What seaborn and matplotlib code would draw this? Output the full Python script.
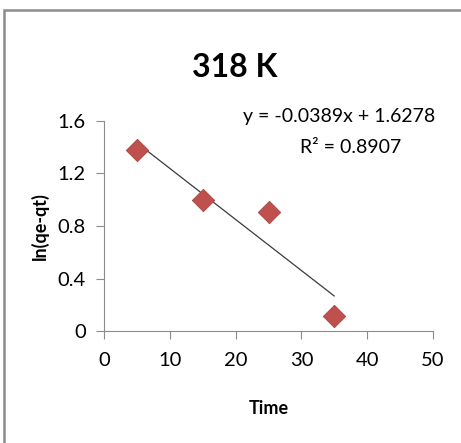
import numpy as np
import pandas as pd
import seaborn as sns
import matplotlib
matplotlib.use("Agg")
import matplotlib.pyplot as plt
from matplotlib.patches import Rectangle

# Kinetic data at 318 K
time = [5, 15, 25, 35]
ln_qe_qt = [1.378, 1.00, 0.91, 0.111]
x_ticks = [0, 10, 20, 30, 40, 50]
y_ticks = [0, 0.4, 0.8, 1.2, 1.6]
title = "318 K"
x_label = "Time"
y_label = "ln(qe-qt)"

# linear trendline as reported
slope = -0.0389
intercept = 1.6278
r_squared = 0.8907

df = pd.DataFrame({"Time": time, "ln": ln_qe_qt})
trend = pd.DataFrame({"Time": [min(time), max(time)]})
trend["ln"] = slope * trend["Time"] + intercept

sns.set_style("white")
plt.rcParams["font.family"] = ["Lato", "DejaVu Sans"]
plt.rcParams["text.color"] = "black"
plt.rcParams["axes.labelcolor"] = "black"
plt.rcParams["xtick.color"] = "black"
plt.rcParams["ytick.color"] = "black"

fig = plt.figure(figsize=(4.61, 4.43), dpi=100)
ax = fig.add_axes([0.2256, 0.2528, 0.7137, 0.4741])

sns.lineplot(data=trend, x="Time", y="ln", ax=ax, color="#3a3a3a", lw=0.9)
sns.scatterplot(data=df, x="Time", y="ln", ax=ax, marker="D", s=130,
                color="#C0504D", edgecolor="#A54542", linewidth=0.6, zorder=3)

ax.set_xlim(0, 50)
ax.set_ylim(0, 1.6)
ax.set_xticks(x_ticks)
ax.set_yticks(y_ticks)
ax.set_xticklabels([str(v) for v in x_ticks])
ax.set_yticklabels([f"{v:g}" for v in y_ticks])
ax.tick_params(axis="both", bottom=True, left=True, labelsize=14.5, length=6,
               width=0.8, color="#8c8c8c", labelcolor="black", direction="out", pad=7)
ax.tick_params(axis="x", pad=9)
for side in ["top", "right"]:
    ax.spines[side].set_visible(False)
for side in ["left", "bottom"]:
    ax.spines[side].set_color("#8c8c8c")
    ax.spines[side].set_linewidth(0.8)

ax.set_xlabel(x_label, fontsize=13, fontweight="bold")
ax.set_ylabel(y_label, fontsize=13, fontweight="bold")
ax.xaxis.set_label_coords(0.5, -0.33)
ax.yaxis.set_label_coords(-0.168, 0.5)

fig.text(0.51, 0.848, title, ha="center", va="center", fontsize=23, fontweight="bold")
ax.text(1.006, 1.02, f"y = {slope:.4f}x + {intercept:.4f}", transform=ax.transAxes,
        ha="right", va="center", fontsize=14)
ax.text(0.75, 0.872, f"R² = {r_squared:.4f}", transform=ax.transAxes,
        ha="center", va="center", fontsize=14)

# chart frame
fig.patches.append(Rectangle((0.0087, -0.05), 1.1, 0.977 + 0.05, transform=fig.transFigure,
                             fill=False, edgecolor="#8c8c8c", lw=1.8))

fig.savefig("out.png", dpi=100)
